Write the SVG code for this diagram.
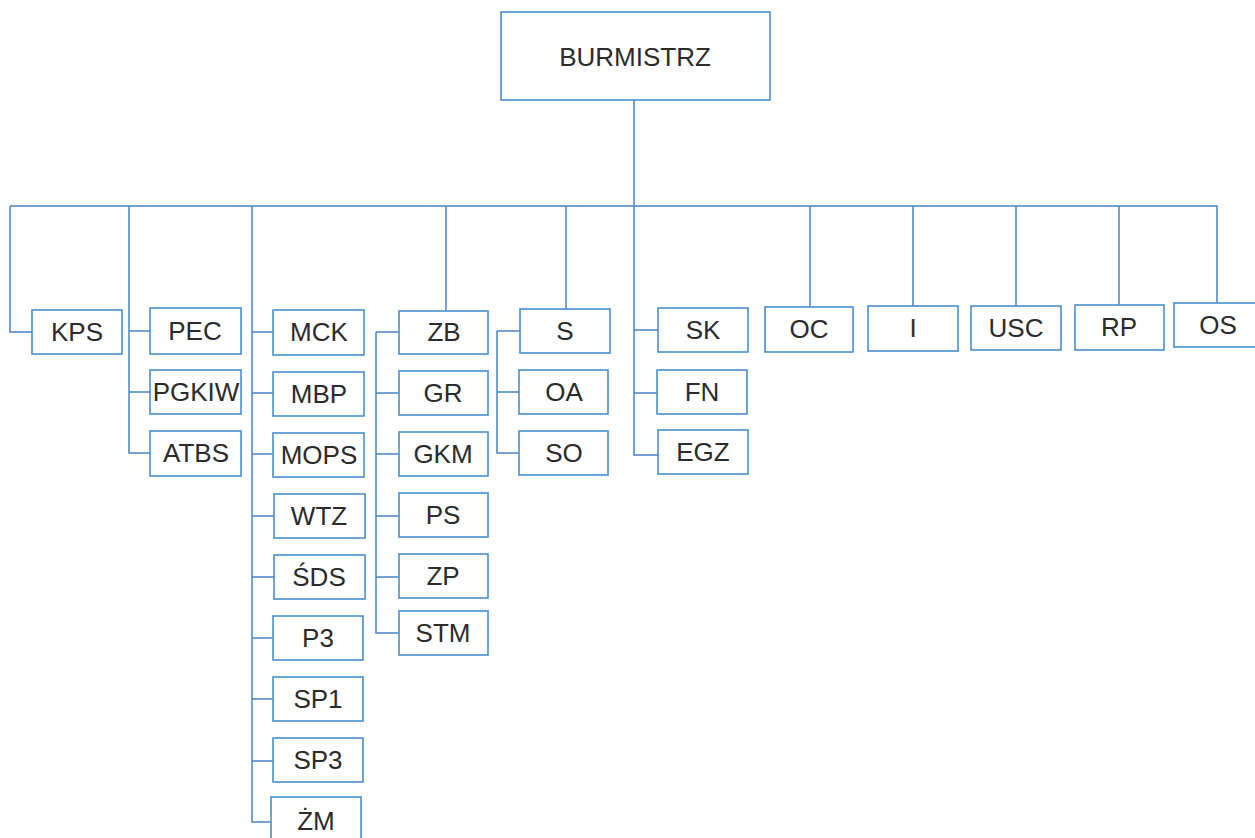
<svg xmlns="http://www.w3.org/2000/svg" width="1255" height="838" viewBox="0 0 1255 838">
<style>
.b{fill:#fff;stroke:#4a8fd0;stroke-width:1.6}
.t{font-family:"Liberation Sans",Arial,sans-serif;font-size:26px;fill:#2b2b2b;text-anchor:middle}
.c{fill:none;stroke:#4a84c4;stroke-width:1.5}
</style>
<rect width="1255" height="838" fill="#fff"/>
<g id="connectors" class="c">
<path d="M634 100V455H658"/>
<path d="M10 206H1217V303"/>
<path d="M10 206V332H32"/>
<path d="M129 206V453H150M129 331H150M129 392H150"/>
<path d="M252 206V822H271M252 332H273M252 393H273M252 454H273M252 516H274M252 577H274M252 638H273M252 699H273M252 761H273"/>
<path d="M446 206V311M376 332H399M376 332V633H399M376 393H399M376 454H399M376 516H399M376 577H399"/>
<path d="M566 206V309M497 331H520M497 331V453H519M497 392H519"/>
<path d="M634 330H658M634 393H657"/>
<path d="M810 206V307M913 206V306M1016 206V306M1119 206V305"/>
</g>
<g id="n-burmistrz"><rect class="b" x="501" y="12" width="269" height="88"/><text class="t" x="635" y="66">BURMISTRZ</text></g>
<g id="n-kps"><rect class="b" x="32" y="310" width="90" height="44"/><text class="t" x="77" y="341">KPS</text></g>
<g id="n-pec"><rect class="b" x="150" y="308" width="91" height="46"/><text class="t" x="195" y="340">PEC</text></g>
<g id="n-pgkiw"><rect class="b" x="150" y="370" width="91" height="44"/><text class="t" x="196" y="401">PGKIW</text></g>
<g id="n-atbs"><rect class="b" x="150" y="431" width="91" height="45"/><text class="t" x="196" y="462">ATBS</text></g>
<g id="n-mck"><rect class="b" x="273" y="310" width="91" height="45"/><text class="t" x="319" y="341">MCK</text></g>
<g id="n-mbp"><rect class="b" x="273" y="372" width="91" height="44"/><text class="t" x="319" y="403">MBP</text></g>
<g id="n-mops"><rect class="b" x="273" y="433" width="91" height="44"/><text class="t" x="319" y="464">MOPS</text></g>
<g id="n-wtz"><rect class="b" x="274" y="494" width="91" height="44"/><text class="t" x="319" y="525">WTZ</text></g>
<g id="n-sds"><rect class="b" x="274" y="555" width="91" height="44"/><text class="t" x="319" y="586">ŚDS</text></g>
<g id="n-p3"><rect class="b" x="273" y="616" width="90" height="44"/><text class="t" x="318" y="647">P3</text></g>
<g id="n-sp1"><rect class="b" x="273" y="677" width="90" height="44"/><text class="t" x="318" y="708">SP1</text></g>
<g id="n-sp3"><rect class="b" x="273" y="738" width="90" height="44"/><text class="t" x="318" y="769">SP3</text></g>
<g id="n-zm"><rect class="b" x="271" y="797" width="90" height="48"/><text class="t" x="316" y="830">ŻM</text></g>
<g id="n-zb"><rect class="b" x="399" y="311" width="89" height="43"/><text class="t" x="444" y="341">ZB</text></g>
<g id="n-gr"><rect class="b" x="399" y="371" width="89" height="44"/><text class="t" x="443" y="402">GR</text></g>
<g id="n-gkm"><rect class="b" x="399" y="432" width="89" height="44"/><text class="t" x="443" y="463">GKM</text></g>
<g id="n-ps"><rect class="b" x="399" y="493" width="89" height="44"/><text class="t" x="443" y="524">PS</text></g>
<g id="n-zp"><rect class="b" x="399" y="554" width="89" height="44"/><text class="t" x="443" y="585">ZP</text></g>
<g id="n-stm"><rect class="b" x="399" y="611" width="89" height="44"/><text class="t" x="443" y="642">STM</text></g>
<g id="n-s"><rect class="b" x="520" y="309" width="90" height="44"/><text class="t" x="565" y="340">S</text></g>
<g id="n-oa"><rect class="b" x="519" y="370" width="89" height="44"/><text class="t" x="564" y="401">OA</text></g>
<g id="n-so"><rect class="b" x="519" y="431" width="89" height="44"/><text class="t" x="564" y="462">SO</text></g>
<g id="n-sk"><rect class="b" x="658" y="308" width="90" height="44"/><text class="t" x="703" y="339">SK</text></g>
<g id="n-fn"><rect class="b" x="657" y="370" width="90" height="44"/><text class="t" x="702" y="401">FN</text></g>
<g id="n-egz"><rect class="b" x="658" y="430" width="90" height="44"/><text class="t" x="703" y="461">EGZ</text></g>
<g id="n-oc"><rect class="b" x="765" y="307" width="88" height="45"/><text class="t" x="809" y="338">OC</text></g>
<g id="n-i"><rect class="b" x="868" y="306" width="90" height="45"/><text class="t" x="913" y="337">I</text></g>
<g id="n-usc"><rect class="b" x="971" y="306" width="90" height="44"/><text class="t" x="1016" y="337">USC</text></g>
<g id="n-rp"><rect class="b" x="1075" y="305" width="89" height="45"/><text class="t" x="1119" y="336">RP</text></g>
<g id="n-os"><rect class="b" x="1174" y="303" width="90" height="44"/><text class="t" x="1218" y="334">OS</text></g>
</svg>
